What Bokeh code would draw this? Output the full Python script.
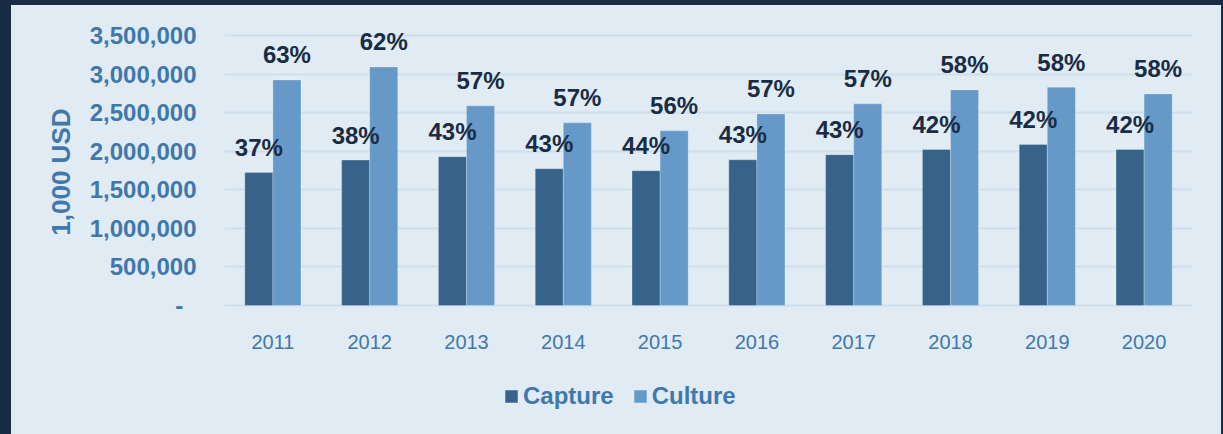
from bokeh.plotting import figure
from bokeh.models import (ColumnDataSource, FixedTicker, NumeralTickFormatter, Legend,
                          LegendItem, GlobalInlineStyleSheet, Title)
from bokeh.transform import dodge
from bokeh.core.properties import value
from bokeh.embed import file_html
from bokeh.resources import INLINE

years = ["2011", "2012", "2013", "2014", "2015", "2016", "2017", "2018", "2019", "2020"]
capture = [1725000, 1885000, 1928000, 1773000, 1747000, 1889000, 1954000, 2022000, 2087000, 2022000]
culture = [2924000, 3092000, 2588000, 2368000, 2264000, 2484000, 2614000, 2795000, 2830000, 2743000]
capture_pct = ["37%", "38%", "43%", "43%", "44%", "43%", "43%", "42%", "42%", "42%"]
culture_pct = ["63%", "62%", "57%", "57%", "56%", "57%", "57%", "58%", "58%", "58%"]
y_ticks = [0, 500000, 1000000, 1500000, 2000000, 2500000, 3000000, 3500000]

BG = "#E0EBF4"
DARK = "#1A2C44"
CAP = "#37638B"
CUL = "#6699C7"
LBL = "#4178AC"
FONT = "Liberation Sans"

src = ColumnDataSource(dict(year=years, capture=capture, culture=culture,
                            cap_pct=capture_pct, cul_pct=culture_pct))

css = GlobalInlineStyleSheet(css=(
    f"html {{ background: {DARK}; margin: 0; padding: 0; }} "
    f"body {{ background: {BG}; margin: 5px 2px 0 11px; padding: 0; }}"))

# frame spans the whole figure height: 30px above the 3.5M line, 129px below zero
AXIS_MAX = 3500000
Y_TOP = AXIS_MAX * (1 + 30 / 270)
Y_BOTTOM = -AXIS_MAX * 129 / 270

p = figure(x_range=years, y_range=(Y_BOTTOM, Y_TOP), width=1210, height=429,
           output_backend="svg", toolbar_location=None, x_axis_location=None,
           min_border_left=213, min_border_right=29, min_border_top=0, min_border_bottom=0)
p.stylesheets = [css]
p.styles = {"background-color": BG}
p.background_fill_color = BG
p.border_fill_color = BG
p.outline_line_color = None

bw = 0.29
r1 = p.vbar(x=dodge("year", -bw / 2, range=p.x_range), top="capture", bottom=0, width=bw, source=src,
            fill_color=CAP, line_color="#FFFFFF", line_alpha=0.25, line_width=1)
r2 = p.vbar(x=dodge("year", bw / 2, range=p.x_range), top="culture", bottom=0, width=bw, source=src,
            fill_color=CUL, line_color="#FFFFFF", line_alpha=0.25, line_width=1)

p.text(x=dodge("year", -bw / 2, range=p.x_range), y="capture", text="cap_pct", source=src,
       text_font=value(FONT), text_font_style="bold", text_font_size="24px",
       text_color=DARK, text_align="center", text_baseline="alphabetic", y_offset=-25)
p.text(x=dodge("year", bw / 2, range=p.x_range), y="culture", text="cul_pct", source=src,
       text_font=value(FONT), text_font_style="bold", text_font_size="24px",
       text_color=DARK, text_align="center", text_baseline="alphabetic", y_offset=-25)

# category labels under the zero line
p.text(x="year", y=0, text="year", source=src,
       text_font=value(FONT), text_font_size="20px", text_color=LBL,
       text_align="center", text_baseline="middle", y_offset=36)

p.xgrid.grid_line_color = None
p.ygrid.grid_line_color = "#D0DEEA"
p.ygrid.grid_line_width = 2
p.ygrid.ticker = FixedTicker(ticks=y_ticks)

p.yaxis.ticker = FixedTicker(ticks=y_ticks)
p.yaxis.formatter = NumeralTickFormatter(format="0,0")
p.yaxis.major_label_overrides = {0: "-\u00a0\u00a0"}
p.yaxis.axis_line_color = None
p.yaxis.major_tick_line_color = None
p.yaxis.minor_tick_line_color = None
p.yaxis.major_label_standoff = 22
p.yaxis.major_label_text_font = FONT
p.yaxis.major_label_text_font_style = "bold"
p.yaxis.major_label_text_font_size = "24px"
p.yaxis.major_label_text_color = LBL

ytitle = Title(text="1,000 USD", align="right", offset=103, standoff=22,
               text_font=FONT, text_font_style="bold", text_font_size="26px",
               text_color=LBL)
p.add_layout(ytitle, "left")

legend = Legend(items=[LegendItem(label="Capture", renderers=[r1]),
                       LegendItem(label="Culture", renderers=[r2])],
                orientation="horizontal", location=(279, 24),
                glyph_width=16, glyph_height=16, label_standoff=4, spacing=18,
                padding=0, margin=0, border_line_color=None, background_fill_alpha=0,
                label_text_font=FONT, label_text_font_style="bold",
                label_text_font_size="24px", label_text_color=LBL, label_height=24)
p.add_layout(legend, "center")

open("out.html", "w").write(file_html(p, INLINE))
